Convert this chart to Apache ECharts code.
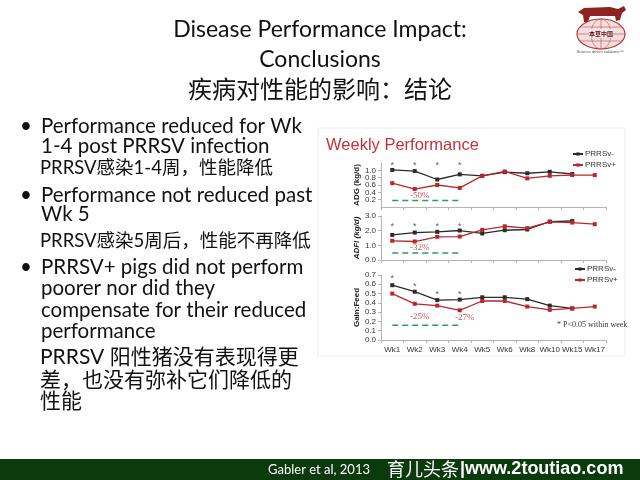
<!DOCTYPE html>
<html><head><meta charset="utf-8">
<script src="https://cdn.jsdelivr.net/npm/echarts@6/dist/echarts.min.js"></script>
<style>html,body{margin:0;padding:0;background:#fff}#c{width:640px;height:480px}</style>
</head><body><div id="c"></div>
<script>
const categories = ['Wk1','Wk2','Wk3','Wk4','Wk5','Wk6','Wk8','Wk10','Wk15','Wk17'];
const adgNeg  = [1.01,0.98,0.75,0.89,0.85,0.95,0.92,0.96,0.90,null];
const adgPos  = [0.65,0.49,0.60,0.52,0.85,0.97,0.78,0.85,0.87,0.87];
const adfiNeg = [1.71,1.87,1.92,2.01,1.81,2.03,2.08,2.62,2.66,null];
const adfiPos = [1.31,1.26,1.58,1.60,2.05,2.30,2.17,2.60,2.55,2.44];
const gfNeg   = [0.59,0.52,0.43,0.435,0.46,0.46,0.44,0.37,0.34,null];
const gfPos   = [0.50,0.39,0.37,0.32,0.42,0.42,0.36,0.325,0.34,0.36];
const adgStars  = [1.13,1.13,1.13,1.13,null,null,null,null,null,null];
const adfiStars = [2.25,2.25,2.25,2.25,null,null,null,null,null,null];
const gfStars   = [0.66,0.58,0.49,0.49,null,null,null,null,null,null];
const adgSig  = [0.18,0.18,0.18,0.18,null,null,null,null,null,null];
const adfiSig = [0.47,0.47,0.47,0.47,null,null,null,null,null,null];
const gfSig   = [0.16,0.16,0.16,0.16,null,null,null,null,null,null];
const adgPct  = [['Wk2',0.30,'-50%']];
const adfiPct = [['Wk2',0.82,'-32%']];
const gfPct   = [['Wk2',0.25,'-25%'],['Wk4',0.24,'-27%']];
const yTicksADG = [0,1.2,0.2];
const yTicksADFI = [0,3,1];
const yTicksGF = [0,0.7,0.1];

const latin = "Lato, 'Noto Sans CJK SC', sans-serif";
const cjk = "Lato, 'Noto Sans CJK SC', sans-serif";
const BLACK = '#2b2b2b', RED = '#b8272c', GREEN = '#2f9a63';

const grids = [
  {left:381, top:163, width:225, height:44},
  {left:381, top:216, width:225, height:44},
  {left:381, top:275, width:225, height:65}
];
const xAxes = grids.map((g,i)=>({
  type:'category', gridIndex:i, data:categories, boundaryGap:true,
  axisLine:{lineStyle:{color:'#b5b5b5',width:1}},
  axisTick:{show:true,length:3,lineStyle:{color:'#b5b5b5'}},
  axisLabel:{show:i===2, interval:0, fontSize:8, color:'#333', fontFamily:'Arial', margin:6}
}));
const ynames = ['ADG (kg/d)','ADFI (kg/d)','Gain:Feed'];
const yt = [yTicksADG,yTicksADFI,yTicksGF];
const yAxes = grids.map((g,i)=>({
  type:'value', gridIndex:i, min:yt[i][0], max:yt[i][1], interval:yt[i][2],
  name:ynames[i], nameLocation:'middle', nameGap:20, nameRotate:90,
  nameTextStyle:{fontSize:8, fontWeight:'bold', color:'#222', fontFamily:'Arial', fontStyle: i===1?'italic':'normal'},
  axisLine:{show:true,lineStyle:{color:'#b5b5b5'}},
  axisTick:{show:true,length:3,lineStyle:{color:'#b5b5b5'}},
  splitLine:{show:false},
  axisLabel:{fontSize:8,color:'#333',fontFamily:'Arial',margin:5,
    formatter:v=>v.toFixed(1)}
}));

function lineSeries(name,data,color,i){
  return {name, type:'line', xAxisIndex:i, yAxisIndex:i, data, color,
    symbol:'rect', symbolSize:4, showSymbol:true, connectNulls:false,
    lineStyle:{color, width:1.3}, itemStyle:{color}, z:3};
}
function starSeries(data,i){
  return {type:'scatter', xAxisIndex:i, yAxisIndex:i, data, symbolSize:1,
    itemStyle:{color:'rgba(0,0,0,0)'}, silent:true,
    label:{show:true, formatter:'*', position:'inside', fontSize:9, color:'#333', fontFamily:'Arial'}};
}
function sigSeries(data,i){
  return {type:'line', xAxisIndex:i, yAxisIndex:i, data, symbol:'none', silent:true,
    lineStyle:{color:GREEN, width:1.5, type:[6,4]}};
}
function pctSeries(arr,i){
  return {type:'scatter', xAxisIndex:i, yAxisIndex:i, symbolSize:1, silent:true,
    itemStyle:{color:'rgba(0,0,0,0)'},
    data:arr.map(a=>({value:[a[0],a[1]], name:a[2]})),
    label:{show:true, formatter:p=>p.name, position:'inside', offset:[5,0], fontSize:9, color:RED, fontFamily:"'Liberation Serif', serif"}};
}

const series = [
  lineSeries('PRRSv-',adgNeg,BLACK,0), lineSeries('PRRSv+',adgPos,RED,0),
  starSeries(adgStars,0), sigSeries(adgSig,0), pctSeries(adgPct,0),
  lineSeries('PRRSv-',adfiNeg,BLACK,1), lineSeries('PRRSv+',adfiPos,RED,1),
  starSeries(adfiStars,1), sigSeries(adfiSig,1), pctSeries(adfiPct,1),
  lineSeries('PRRSv-',gfNeg,BLACK,2), lineSeries('PRRSv+',gfPos,RED,2),
  starSeries(gfStars,2), sigSeries(gfSig,2), pctSeries(gfPct,2)
];

const legendBase = {orient:'vertical', itemWidth:10, itemHeight:4, itemGap:3,
  data:['PRRSv-','PRRSv+'], textStyle:{fontSize:8,color:'#333',fontFamily:'Arial',padding:[0,0,0,-3]}, padding:0};

const B = 20.5, C1 = 18.5, C2 = 21;
const body = [
  ['•',20,126,B],['Performance reduced for Wk',41,126,B],['1-4 post PRRSV infection',41,146,B],
  ['PRRSV感染1-4周，性能降低',40,168,C1],
  ['•',20,195,B],['Performance not reduced past',41,195,B],['Wk 5',41,214,B],
  ['PRRSV感染5周后，性能不再降低',40,241,C1],
  ['•',20,267,B],['PRRSV+ pigs did not perform',41,267,B],['poorer nor did they',41,288,B],
  ['compensate for their reduced',41,310,B],['performance',41,331,B],
  ['PRRSV 阳性猪没有表现得更',40,357,C2],['差，也没有弥补它们降低的',40,380,C2],['性能',40,401,C2]
];
const graphics = [
  {type:'rect', shape:{x:318,y:128,width:307,height:228}, style:{fill:'#fff', stroke:'#ececec', lineWidth:1}, z:-10, silent:true},
  {type:'text', x:320, y:30, style:{text:'Disease Performance Impact:', font:'23px '+latin, fill:'#111', textAlign:'center', textVerticalAlign:'middle'}},
  {type:'text', x:320, y:60, style:{text:'Conclusions', font:'23px '+latin, fill:'#111', textAlign:'center', textVerticalAlign:'middle'}},
  {type:'text', x:320, y:90, style:{text:'疾病对性能的影响：结论', font:'24px '+cjk, fill:'#111', textAlign:'center', textVerticalAlign:'middle'}},
  {type:'text', x:326, y:145, style:{text:'Weekly Performance', font:'16.5px Arial, sans-serif', fill:'#c8313a', textVerticalAlign:'middle'}},
  {type:'text', x:557, y:325, style:{text:'* P<0.05 within week', font:"8px 'Liberation Serif', serif", fill:'#333', textVerticalAlign:'middle'}},
  // footer
  {type:'rect', shape:{x:0,y:459,width:640,height:21}, style:{fill:'#0b3a0d'}, silent:true},
  {type:'text', x:268, y:470, style:{text:'Gabler et al, 2013', font:'13px '+latin, fill:'#fff', textVerticalAlign:'middle'}},
  {type:'text', x:387, y:469, style:{text:'育儿头条', font:"18px 'Noto Sans CJK SC'", fill:'#fff', textVerticalAlign:'middle'}},
  {type:'text', x:460, y:469, style:{text:'|www.2toutiao.com', font:"bold 18px Arial, sans-serif", fill:'#fff', textVerticalAlign:'middle'}},
  // logo
  {type:'ellipse', shape:{cx:601,cy:34,rx:24,ry:15}, style:{fill:'#f3dede', stroke:'#b43a3a', lineWidth:1.2}, silent:true},
  {type:'line', shape:{x1:577,y1:34,x2:625,y2:34}, style:{stroke:'#c24a4a', lineWidth:0.6}},
  {type:'line', shape:{x1:580,y1:27,x2:622,y2:27}, style:{stroke:'#c24a4a', lineWidth:0.6}},
  {type:'line', shape:{x1:580,y1:41,x2:622,y2:41}, style:{stroke:'#c24a4a', lineWidth:0.6}},
  {type:'ellipse', shape:{cx:601,cy:34,rx:10,ry:15}, style:{fill:'none', stroke:'#c24a4a', lineWidth:0.6}},
  {type:'line', shape:{x1:601,y1:19,x2:601,y2:49}, style:{stroke:'#c24a4a', lineWidth:0.6}},
  {type:'polygon', shape:{points:[[578,12],[584,8],[610,7],[618,9],[624,6],[626,10],[622,13],[620,20],[616,21],[615,16],[590,16],[588,22],[584,22],[583,15]]}, style:{fill:'#8e2222'}},
  {type:'rect', shape:{x:589,y:29,width:24,height:9}, style:{fill:'#f7eaea'}},
  {type:'text', x:601, y:34, style:{text:'本草中国', font:"bold 6px 'Noto Sans CJK SC'", fill:'#5a1010', textAlign:'center', textVerticalAlign:'middle'}},
  {type:'text', x:600, y:52, style:{text:'Science driven solutions™', font:'4px Arial', fill:'#555', textAlign:'center', textVerticalAlign:'middle'}}
];
body.forEach(b=>graphics.push({type:'text', x:b[1], y:b[2], silent:true,
  style:{text:b[0], font:b[3]+'px '+latin, fill:'#111', textVerticalAlign:'middle'}}));

const chart = echarts.init(document.getElementById('c'), null, {renderer:'canvas'});
chart.setOption({
  animation:false,
  backgroundColor:'#fff',
  grid:grids, xAxis:xAxes, yAxis:yAxes, series,
  legend:[
    Object.assign({left:572, top:150}, legendBase),
    Object.assign({left:574, top:265}, legendBase)
  ],
  graphic:graphics
});
</script></body></html>
